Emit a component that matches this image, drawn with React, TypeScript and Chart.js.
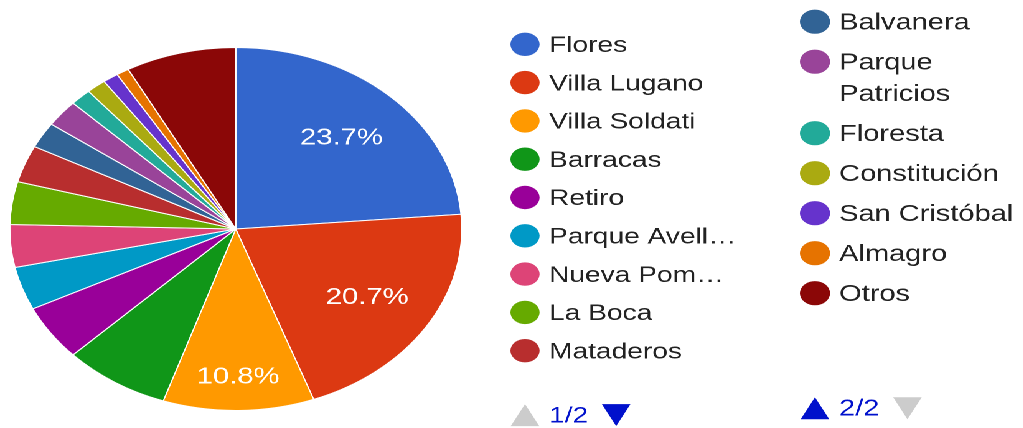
import { useEffect, useRef } from "react";
import { Chart, registerables } from "chart.js";

Chart.register(...registerables);

// ---- data ----
const categories = [
  "Flores",
  "Villa Lugano",
  "Villa Soldati",
  "Barracas",
  "Retiro",
  "Parque Avellaneda",
  "Nueva Pompeya",
  "La Boca",
  "Mataderos",
  "Balvanera",
  "Parque Patricios",
  "Floresta",
  "Constitución",
  "San Cristóbal",
  "Almagro",
  "Otros",
];
const shares = [23.7, 20.7, 10.8, 7.6, 4.95, 3.85, 3.8, 3.8, 3.3, 2.3, 2.4, 1.5, 1.4, 1.1, 0.9, 7.9];
const colors = [
  "#3366cc", "#dc3912", "#ff9900", "#109618", "#990099", "#0099c6", "#dd4477", "#66aa00",
  "#b82e2e", "#316395", "#994499", "#22aa99", "#aaaa11", "#6633cc", "#e67300", "#8b0707",
];
const pageSizes = [9, 7];
const pageLabels = ["1/2", "2/2"];

// ---- layout (canvas coordinates, stretched horizontally by SX) ----
const SX = 1.245;
const W = 822;
const H = 428;
const CX = 189.4;
const CY = 229;
const R = 181.5;
const TEXT_DY = 1.5;

const FONT = "Arial, 'Liberation Sans', sans-serif";

type Col = {
  dotX: number; textX: number; top: number; step: number; lineH: number;
  size: number; dotR: number; maxW: number; wrap: boolean; pagerY: number;
  upOn: boolean; downOn: boolean;
};
const cols: Col[] = [
  { dotX: 421.7, textX: 441, top: 44.3, step: 38.3, lineH: 31.5, size: 22.6, dotR: 11.7, maxW: 152, wrap: false, pagerY: 414.6, upOn: false, downOn: true },
  { dotX: 654.6, textX: 674, top: 21.7, step: 40, lineH: 31.5, size: 23.3, dotR: 12.1, maxW: 150, wrap: true, pagerY: 407.8, upOn: true, downOn: false },
];

function truncate(ctx: CanvasRenderingContext2D, s: string, maxW: number) {
  if (ctx.measureText(s).width <= maxW) return s;
  let t = s;
  while (t.length > 1 && ctx.measureText(t + "…").width > maxW) t = t.slice(0, -1);
  return t.trimEnd() + "…";
}

function wrapWords(ctx: CanvasRenderingContext2D, s: string, maxW: number) {
  if (ctx.measureText(s).width <= maxW) return [s];
  const words = s.split(" ");
  const lines: string[] = [];
  let cur = "";
  for (const w of words) {
    const test = cur ? cur + " " + w : w;
    if (cur && ctx.measureText(test).width > maxW) {
      lines.push(cur);
      cur = w;
    } else cur = test;
  }
  if (cur) lines.push(cur);
  return lines;
}

function tri(ctx: CanvasRenderingContext2D, cx: number, cy: number, up: boolean, color: string) {
  const w = 23, h = 22;
  ctx.fillStyle = color;
  ctx.beginPath();
  if (up) {
    ctx.moveTo(cx, cy - h / 2);
    ctx.lineTo(cx + w / 2, cy + h / 2);
    ctx.lineTo(cx - w / 2, cy + h / 2);
  } else {
    ctx.moveTo(cx - w / 2, cy - h / 2);
    ctx.lineTo(cx + w / 2, cy - h / 2);
    ctx.lineTo(cx, cy + h / 2);
  }
  ctx.closePath();
  ctx.fill();
}

const overlay = {
  id: "overlay",
  afterDatasetsDraw(chart: any) {
    const ctx: CanvasRenderingContext2D = chart.ctx;
    const meta = chart.getDatasetMeta(0);
    ctx.save();
    ctx.fillStyle = "#ffffff";
    ctx.font = `23.5px ${FONT}`;
    ctx.textAlign = "center";
    ctx.textBaseline = "middle";
    meta.data.forEach((arc: any, i: number) => {
      const v = shares[i];
      if (v < 10) return;
      const { startAngle, endAngle, x, y, outerRadius } = arc.getProps(
        ["startAngle", "endAngle", "x", "y", "outerRadius"], true
      );
      const mid = (startAngle + endAngle) / 2;
      const f = v >= 15 ? 0.69 : 0.81;
      ctx.fillText(v.toFixed(1) + "%", x + Math.cos(mid) * outerRadius * f, y + Math.sin(mid) * outerRadius * f + 1);
    });
    ctx.restore();
  },
  afterDraw(chart: any) {
    const ctx: CanvasRenderingContext2D = chart.ctx;
    ctx.save();
    let idx = 0;
    cols.forEach((c, p) => {
      ctx.font = `${c.size}px ${FONT}`;
      ctx.textAlign = "left";
      ctx.textBaseline = "middle";
      let y = c.top;
      for (let k = 0; k < pageSizes[p]; k++, idx++) {
        ctx.fillStyle = colors[idx];
        ctx.beginPath();
        ctx.arc(c.dotX, y, c.dotR, 0, Math.PI * 2);
        ctx.fill();
        ctx.fillStyle = "#222222";
        const lines = c.wrap ? wrapWords(ctx, categories[idx], c.maxW) : [truncate(ctx, categories[idx], c.maxW)];
        lines.forEach((ln, j) => ctx.fillText(ln, c.textX, y + j * c.lineH + TEXT_DY));
        y += c.step + (lines.length - 1) * c.lineH;
      }
      // pager
      tri(ctx, c.dotX, c.pagerY + 0.5, true, c.upOn ? "#0011cc" : "#cccccc");
      ctx.fillStyle = "#0011cc";
      ctx.fillText(pageLabels[p], c.textX, c.pagerY + TEXT_DY);
      const tw = ctx.measureText(pageLabels[p]).width;
      tri(ctx, c.textX + tw + 11 + 11.5, c.pagerY + 0.5, false, c.downOn ? "#0011cc" : "#cccccc");
    });
    ctx.restore();
  },
};

export default function App() {
  const ref = useRef<HTMLCanvasElement | null>(null);
  useEffect(() => {
    document.body.style.margin = "0";
    document.body.style.overflow = "hidden";
    const canvas = ref.current!;
    const chart = new Chart(canvas, {
      type: "pie",
      data: {
        labels: categories,
        datasets: [
          {
            data: shares,
            backgroundColor: colors,
            borderColor: "#ffffff",
            borderWidth: 1,
          },
        ],
      },
      options: {
        animation: false,
        responsive: true,
        maintainAspectRatio: false,
        devicePixelRatio: 2,
        events: [],
        radius: R,
        layout: {
          padding: { left: CX - R, right: W - (CX + R), top: CY - R, bottom: H - (CY + R) },
        },
        plugins: {
          legend: { display: false },
          tooltip: { enabled: false },
        },
      } as any,
      plugins: [overlay],
    });
    return () => chart.destroy();
  }, []);
  return (
    <div
      style={{
        position: "fixed",
        left: 0,
        top: 0,
        width: W,
        height: H,
        transform: `scaleX(${SX})`,
        transformOrigin: "0 0",
        background: "#ffffff",
      }}
    >
      <canvas ref={ref} />
    </div>
  );
}
